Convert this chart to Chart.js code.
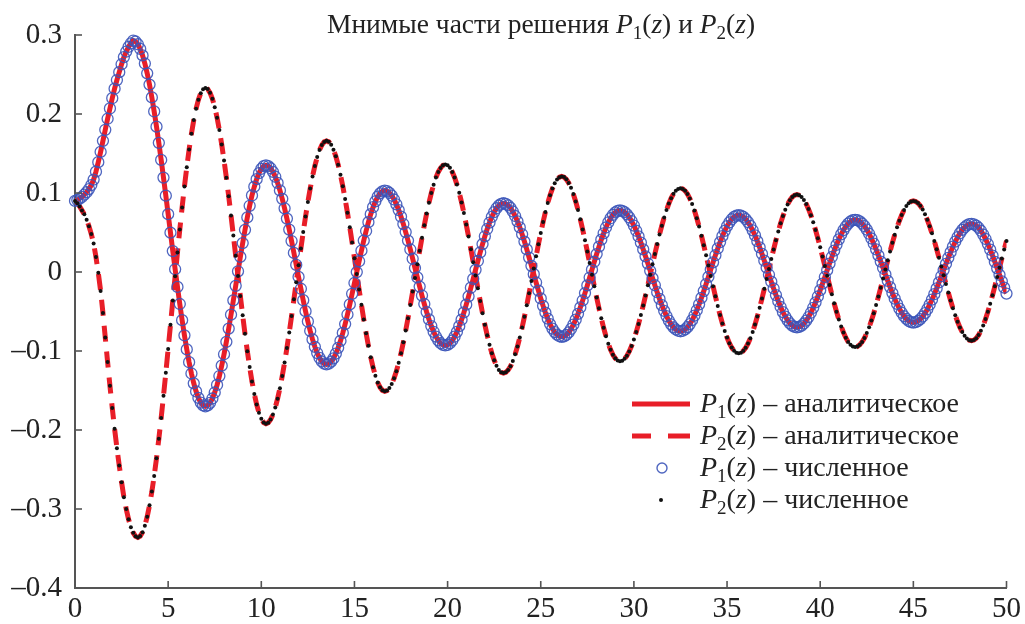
<!DOCTYPE html>
<html>
<head>
<meta charset="utf-8">
<script src="https://cdn.jsdelivr.net/npm/chart.js@4.4.1/dist/chart.umd.min.js"></script>
<style>
html,body{margin:0;padding:0;background:#fff;}
#wrap{width:1025px;height:624px;}
</style>
</head>
<body>
<div id="wrap"><canvas id="c" width="1025" height="624"></canvas></div>
<script>
// sample positions z
const z = [
0,0.125,0.25,0.375,0.5,0.625,0.75,0.875,
1,1.125,1.25,1.375,1.5,1.625,1.75,1.875,
2,2.125,2.25,2.375,2.5,2.625,2.75,2.875,
3,3.125,3.25,3.375,3.5,3.625,3.75,3.875,
4,4.125,4.25,4.375,4.5,4.625,4.75,4.875,
5,5.125,5.25,5.375,5.5,5.625,5.75,5.875,
6,6.125,6.25,6.375,6.5,6.625,6.75,6.875,
7,7.125,7.25,7.375,7.5,7.625,7.75,7.875,
8,8.125,8.25,8.375,8.5,8.625,8.75,8.875,
9,9.125,9.25,9.375,9.5,9.625,9.75,9.875,
10,10.125,10.25,10.375,10.5,10.625,10.75,10.875,
11,11.125,11.25,11.375,11.5,11.625,11.75,11.875,
12,12.125,12.25,12.375,12.5,12.625,12.75,12.875,
13,13.125,13.25,13.375,13.5,13.625,13.75,13.875,
14,14.125,14.25,14.375,14.5,14.625,14.75,14.875,
15,15.125,15.25,15.375,15.5,15.625,15.75,15.875,
16,16.125,16.25,16.375,16.5,16.625,16.75,16.875,
17,17.125,17.25,17.375,17.5,17.625,17.75,17.875,
18,18.125,18.25,18.375,18.5,18.625,18.75,18.875,
19,19.125,19.25,19.375,19.5,19.625,19.75,19.875,
20,20.125,20.25,20.375,20.5,20.625,20.75,20.875,
21,21.125,21.25,21.375,21.5,21.625,21.75,21.875,
22,22.125,22.25,22.375,22.5,22.625,22.75,22.875,
23,23.125,23.25,23.375,23.5,23.625,23.75,23.875,
24,24.125,24.25,24.375,24.5,24.625,24.75,24.875,
25,25.125,25.25,25.375,25.5,25.625,25.75,25.875,
26,26.125,26.25,26.375,26.5,26.625,26.75,26.875,
27,27.125,27.25,27.375,27.5,27.625,27.75,27.875,
28,28.125,28.25,28.375,28.5,28.625,28.75,28.875,
29,29.125,29.25,29.375,29.5,29.625,29.75,29.875,
30,30.125,30.25,30.375,30.5,30.625,30.75,30.875,
31,31.125,31.25,31.375,31.5,31.625,31.75,31.875,
32,32.125,32.25,32.375,32.5,32.625,32.75,32.875,
33,33.125,33.25,33.375,33.5,33.625,33.75,33.875,
34,34.125,34.25,34.375,34.5,34.625,34.75,34.875,
35,35.125,35.25,35.375,35.5,35.625,35.75,35.875,
36,36.125,36.25,36.375,36.5,36.625,36.75,36.875,
37,37.125,37.25,37.375,37.5,37.625,37.75,37.875,
38,38.125,38.25,38.375,38.5,38.625,38.75,38.875,
39,39.125,39.25,39.375,39.5,39.625,39.75,39.875,
40,40.125,40.25,40.375,40.5,40.625,40.75,40.875,
41,41.125,41.25,41.375,41.5,41.625,41.75,41.875,
42,42.125,42.25,42.375,42.5,42.625,42.75,42.875,
43,43.125,43.25,43.375,43.5,43.625,43.75,43.875,
44,44.125,44.25,44.375,44.5,44.625,44.75,44.875,
45,45.125,45.25,45.375,45.5,45.625,45.75,45.875,
46,46.125,46.25,46.375,46.5,46.625,46.75,46.875,
47,47.125,47.25,47.375,47.5,47.625,47.75,47.875,
48,48.125,48.25,48.375,48.5,48.625,48.75,48.875,
49,49.125,49.25,49.375,49.5,49.625,49.75,49.875,
50];

// Im P1(z)
const p1 = [
0.090,0.091,0.093,0.095,0.098,0.101,0.105,0.110,
0.117,0.127,0.139,0.152,0.166,0.180,0.194,0.207,
0.220,0.232,0.243,0.253,0.263,0.272,0.279,0.285,
0.2895,0.293,0.2918,0.2883,0.2824,0.2742,0.2639,0.2515,
0.2372,0.2210,0.2032,0.1840,0.1635,0.1419,0.1195,0.0966,
0.0732,0.0498,0.0265,0.0035,-0.0189,-0.0405,-0.0610,-0.0802,
-0.0980,-0.1142,-0.1285,-0.1409,-0.1512,-0.1594,-0.1653,-0.1688,
-0.170,-0.1689,-0.1656,-0.1601,-0.1525,-0.1430,-0.1317,-0.1186,
-0.1041,-0.0884,-0.0716,-0.0540,-0.0359,-0.0175,0.0009,0.0191,
0.0366,0.0534,0.0691,0.0838,0.0969,0.1080,0.1175,0.1251,
0.1306,0.1339,0.135,0.1341,0.1313,0.1268,0.1206,0.1127,
0.1033,0.0926,0.0806,0.0676,0.0537,0.0392,0.0242,0.0090,
-0.0062,-0.0212,-0.0357,-0.0496,-0.0626,-0.0746,-0.0853,-0.0947,
-0.1026,-0.1088,-0.1133,-0.1161,-0.117,-0.1161,-0.1135,-0.1093,
-0.1034,-0.0960,-0.0872,-0.0771,-0.0659,-0.0538,-0.0410,-0.0276,
-0.0139,-0.0001,0.0136,0.0270,0.0398,0.0519,0.0631,0.0732,
0.0820,0.0894,0.0953,0.0995,0.1021,0.103,0.1023,0.1002,
0.0966,0.0918,0.0857,0.0784,0.0700,0.0607,0.0505,0.0398,
0.0285,0.0168,0.0050,-0.0068,-0.0185,-0.0298,-0.0405,-0.0507,
-0.0600,-0.0684,-0.0757,-0.0818,-0.0866,-0.0902,-0.0923,-0.093,
-0.0923,-0.0902,-0.0867,-0.0819,-0.0758,-0.0686,-0.0604,-0.0512,
-0.0413,-0.0308,-0.0199,-0.0087,0.0027,0.0139,0.0248,0.0353,
0.0452,0.0544,0.0626,0.0698,0.0759,0.0807,0.0842,0.0863,
0.087,0.0863,0.0843,0.0811,0.0766,0.0709,0.0641,0.0564,
0.0478,0.0385,0.0286,0.0183,0.0078,-0.0028,-0.0133,-0.0236,
-0.0335,-0.0428,-0.0514,-0.0591,-0.0659,-0.0716,-0.0761,-0.0793,
-0.0813,-0.082,-0.0814,-0.0795,-0.0764,-0.0721,-0.0667,-0.0603,
-0.0530,-0.0449,-0.0361,-0.0267,-0.0170,-0.0070,0.0030,0.0130,
0.0227,0.0321,0.0409,0.0490,0.0563,0.0627,0.0681,0.0724,
0.0755,0.0774,0.078,0.0774,0.0758,0.0730,0.0692,0.0645,
0.0588,0.0522,0.0450,0.0371,0.0286,0.0198,0.0107,0.0015,
-0.0077,-0.0168,-0.0256,-0.0341,-0.0420,-0.0492,-0.0558,-0.0615,
-0.0662,-0.0700,-0.0728,-0.0744,-0.075,-0.0744,-0.0727,-0.0698,
-0.0659,-0.0610,-0.0551,-0.0484,-0.0409,-0.0328,-0.0242,-0.0153,
-0.0061,0.0031,0.0123,0.0212,0.0298,0.0379,0.0454,0.0521,
0.0580,0.0629,0.0668,0.0697,0.0714,0.072,0.0714,0.0698,
0.0670,0.0632,0.0584,0.0528,0.0463,0.0390,0.0312,0.0229,
0.0143,0.0055,-0.0035,-0.0123,-0.0209,-0.0292,-0.0370,-0.0443,
-0.0508,-0.0564,-0.0612,-0.0650,-0.0678,-0.0694,-0.070,-0.0695,
-0.0679,-0.0652,-0.0616,-0.0570,-0.0516,-0.0453,-0.0384,-0.0310,
-0.0230,-0.0147,-0.0063,0.0023,0.0107,0.0190,0.0270,0.0344,
0.0413,0.0476,0.0530,0.0576,0.0612,0.0639,0.0655,0.066,
0.0655,0.0640,0.0614,0.0580,0.0536,0.0484,0.0424,0.0358,
0.0287,0.0211,0.0132,0.0051,-0.0031,-0.0112,-0.0191,-0.0267,
-0.0338,-0.0404,-0.0464,-0.0516,-0.0560,-0.0594,-0.0620,-0.0635,
-0.064,-0.0635,-0.0620,-0.0596,-0.0563,-0.0521,-0.0471,-0.0413,
-0.0350,-0.0281,-0.0208,-0.0132,-0.0054,0.0024,0.0102,0.0178,
0.0251,0.0320,0.0384,0.0441,0.0491,0.0533,0.0566,0.0590,
0.0605,0.061,0.0604,0.0588,0.0560,0.0522,0.0474,0.0418,
0.0354,0.0283,0.0208,0.0128,0.0046,-0.0036,-0.0118,-0.0198,
-0.0273];

// Im P2(z)
const p2 = [
0.090,0.087,0.083,0.078,0.073,0.066,0.058,0.048,
0.036,0.019,-0.001,-0.024,-0.052,-0.083,-0.114,-0.144,
-0.172,-0.1985,-0.223,-0.245,-0.266,-0.285,-0.300,-0.313,
-0.323,-0.330,-0.3345,-0.336,-0.3343,-0.3294,-0.3211,-0.3097,
-0.2953,-0.2780,-0.2581,-0.2357,-0.2112,-0.1848,-0.1568,-0.1276,
-0.0975,-0.0669,-0.0361,-0.0055,0.0246,0.0538,0.0818,0.1082,
0.1327,0.1551,0.1750,0.1923,0.2067,0.2181,0.2264,0.2313,
0.233,0.2315,0.2268,0.2192,0.2087,0.1954,0.1796,0.1614,
0.1412,0.1193,0.0959,0.0714,0.0461,0.0205,-0.0051,-0.0304,
-0.0549,-0.0783,-0.1002,-0.1204,-0.1386,-0.1544,-0.1677,-0.1782,
-0.1858,-0.1905,-0.192,-0.1907,-0.1868,-0.1804,-0.1715,-0.1603,
-0.1470,-0.1317,-0.1147,-0.0962,-0.0765,-0.0558,-0.0346,-0.0130,
0.0086,0.0298,0.0505,0.0702,0.0887,0.1057,0.1210,0.1343,
0.1455,0.1544,0.1608,0.1647,0.166,0.1648,0.1610,0.1549,
0.1464,0.1357,0.1230,0.1085,0.0924,0.0750,0.0565,0.0372,
0.0175,-0.0025,-0.0222,-0.0415,-0.0600,-0.0774,-0.0935,-0.1080,
-0.1207,-0.1314,-0.1399,-0.1460,-0.1498,-0.151,-0.1500,-0.1468,
-0.1417,-0.1346,-0.1256,-0.1149,-0.1027,-0.0890,-0.0742,-0.0584,
-0.0418,-0.0248,-0.0075,0.0098,0.0268,0.0434,0.0592,0.0740,
0.0877,0.0999,0.1106,0.1196,0.1267,0.1318,0.1350,0.136,
0.1350,0.1319,0.1267,0.1197,0.1108,0.1002,0.0881,0.0747,
0.0602,0.0448,0.0287,0.0123,-0.0043,-0.0207,-0.0368,-0.0522,
-0.0667,-0.0801,-0.0922,-0.1028,-0.1117,-0.1187,-0.1239,-0.1270,
-0.128,-0.1270,-0.1241,-0.1193,-0.1126,-0.1042,-0.0943,-0.0829,
-0.0702,-0.0565,-0.0420,-0.0268,-0.0113,0.0043,0.0198,0.0350,
0.0495,0.0632,0.0759,0.0873,0.0972,0.1056,0.1123,0.1171,
0.1200,0.121,0.1201,0.1173,0.1128,0.1065,0.0987,0.0893,
0.0786,0.0667,0.0538,0.0402,0.0259,0.0114,-0.0034,-0.0179,
-0.0322,-0.0458,-0.0587,-0.0706,-0.0813,-0.0907,-0.0985,-0.1048,
-0.1093,-0.1121,-0.113,-0.1122,-0.1098,-0.1059,-0.1005,-0.0936,
-0.0855,-0.0761,-0.0657,-0.0544,-0.0423,-0.0297,-0.0167,-0.0035,
0.0097,0.0227,0.0353,0.0474,0.0587,0.0691,0.0785,0.0866,
0.0935,0.0989,0.1028,0.1052,0.106,0.1052,0.1027,0.0987,
0.0931,0.0860,0.0777,0.0681,0.0575,0.0460,0.0338,0.0211,
0.0081,-0.0051,-0.0181,-0.0308,-0.0430,-0.0545,-0.0651,-0.0747,
-0.0830,-0.0901,-0.0957,-0.0997,-0.1022,-0.103,-0.1022,-0.0998,
-0.0959,-0.0906,-0.0838,-0.0758,-0.0666,-0.0564,-0.0453,-0.0336,
-0.0213,-0.0088,0.0038,0.0163,0.0286,0.0403,0.0514,0.0616,
0.0708,0.0788,0.0856,0.0909,0.0948,0.0972,0.098,0.0972,
0.0950,0.0912,0.0861,0.0796,0.0719,0.0630,0.0532,0.0426,
0.0313,0.0196,0.0076,-0.0046,-0.0166,-0.0283,-0.0396,-0.0502,
-0.0600,-0.0689,-0.0766,-0.0832,-0.0885,-0.0922,-0.0942,-0.095,
-0.0943,-0.0921,-0.0885,-0.0836,-0.0773,-0.0699,-0.0615,-0.0521,
-0.0419,-0.0311,-0.0198,-0.0083,0.0033,0.0148,0.0261,0.0369,
0.0471,0.0565,0.0649,0.0723,0.0786,0.0835,0.0871,0.0893,
0.090,0.0893,0.0872,0.0838,0.0791,0.0731,0.0660,0.0579,
0.0489,0.0392,0.0289,0.0181,0.0071,-0.0041,-0.0151,-0.0259,
-0.0362,-0.0459,-0.0549,-0.0630,-0.0701,-0.0761,-0.0808,-0.0843,
-0.0863,-0.087,-0.0862,-0.0838,-0.0798,-0.0744,-0.0676,-0.0595,
-0.0504,-0.0403,-0.0295,-0.0181,-0.0064,0.0054,0.0171,0.0285,
0.0393];

const xTickValues = [0,5,10,15,20,25,30,35,40,45,50];
const yTickValues = [-0.4,-0.3,-0.2,-0.1,0,0.1,0.2,0.3];

const titleSegs = [['Мнимые части решения ','n'],['P','i'],['1','s'],['(','n'],['z','i'],[') и ','n'],['P','i'],['2','s'],['(','n'],['z','i'],[')','n']];
const legendItems = [
  [['P','i'],['1','s'],['(','n'],['z','i'],[') – аналитическое','n']],
  [['P','i'],['2','s'],['(','n'],['z','i'],[') – аналитическое','n']],
  [['P','i'],['1','s'],['(','n'],['z','i'],[') – численное','n']],
  [['P','i'],['2','s'],['(','n'],['z','i'],[') – численное','n']]
];

const RED = 'rgb(232,30,40)';
const BLUE = 'rgba(60,85,185,0.9)';
const FAM = 'Liberation Serif';

function pts(ys){ return z.map((x,i)=>({x:x, y:ys[i]})); }

function segFont(kind,size){
  if(kind==='i') return 'italic '+size+'px "'+FAM+'"';
  if(kind==='s') return Math.round(size*0.68)+'px "'+FAM+'"';
  return size+'px "'+FAM+'"';
}
function drawRich(ctx,segs,x,y,size,align){
  let w=0; const ws=[];
  segs.forEach(s=>{ctx.font=segFont(s[1],size); const m=ctx.measureText(s[0]).width; ws.push(m); w+=m;});
  let cx = align==='center' ? x-w/2 : x;
  ctx.textAlign='left'; ctx.textBaseline='alphabetic';
  segs.forEach((s,i)=>{
    ctx.font=segFont(s[1],size);
    const dy = s[1]==='s' ? size*0.22 : 0;
    ctx.fillText(s[0],cx,y+dy);
    cx+=ws[i];
  });
}

const decor = {
  id:'decor',
  afterDraw(chart){
    const ctx=chart.ctx, xs=chart.scales.x, ys=chart.scales.y, ca=chart.chartArea;
    ctx.save();
    ctx.strokeStyle='#555'; ctx.lineWidth=1.6;
    xTickValues.forEach(v=>{const p=xs.getPixelForValue(v); ctx.beginPath(); ctx.moveTo(p,ca.bottom); ctx.lineTo(p,ca.bottom-7); ctx.stroke();});
    yTickValues.forEach(v=>{const p=ys.getPixelForValue(v); ctx.beginPath(); ctx.moveTo(ca.left,p); ctx.lineTo(ca.left+7,p); ctx.stroke();});
    ctx.fillStyle='#222';
    drawRich(ctx,titleSegs,541,33,27.5,'center');
    // legend
    const lx=632, rows=[404,436,468,500];
    ctx.strokeStyle=RED; ctx.lineWidth=5; ctx.lineCap='butt';
    ctx.beginPath(); ctx.moveTo(lx,rows[0]); ctx.lineTo(lx+58,rows[0]); ctx.stroke();
    ctx.beginPath(); ctx.moveTo(lx,rows[1]); ctx.lineTo(lx+19,rows[1]); ctx.moveTo(lx+36,rows[1]); ctx.lineTo(lx+58,rows[1]); ctx.stroke();
    ctx.strokeStyle=BLUE; ctx.lineWidth=1.4;
    ctx.beginPath(); ctx.arc(lx+30,rows[2],5,0,Math.PI*2); ctx.stroke();
    ctx.fillStyle='#111';
    ctx.beginPath(); ctx.arc(lx+29,rows[3],2,0,Math.PI*2); ctx.fill();
    ctx.fillStyle='#222';
    legendItems.forEach((segs,i)=>drawRich(ctx,segs,700,rows[i]+8,28,'left'));
    ctx.restore();
  }
};

new Chart(document.getElementById('c'),{
  type:'line',
  data:{datasets:[
    {label:'P1 analytic',data:pts(p1),borderColor:RED,borderWidth:5,pointRadius:0,tension:0,fill:false,order:3},
    {label:'P2 analytic',data:pts(p2),borderColor:RED,borderWidth:5,borderDash:[16,10],pointRadius:0,tension:0,fill:false,order:2},
    {label:'P1 numeric',data:pts(p1),showLine:false,pointRadius:5.5,pointBorderWidth:1.3,pointBorderColor:BLUE,pointBackgroundColor:'rgba(0,0,0,0)',order:1,clip:false},
    {label:'P2 numeric',data:pts(p2),showLine:false,pointRadius:2,pointBorderWidth:0,pointBackgroundColor:'#111',pointBorderColor:'#111',order:0,clip:false}
  ]},
  options:{
    responsive:false,animation:false,devicePixelRatio:1,
    layout:{padding:{top:35,right:17,left:0,bottom:0}},
    plugins:{legend:{display:false},tooltip:{enabled:false},title:{display:false}},
    scales:{
      x:{type:'linear',min:0,max:50,
        afterBuildTicks(s){s.ticks=xTickValues.map(v=>({value:v}));},
        afterFit(s){s.height=36;},
        grid:{display:false,drawTicks:false},
        border:{display:true,color:'#555',width:2},
        ticks:{padding:4,color:'#222',font:{family:FAM,size:29},maxRotation:0,callback:v=>String(v)}},
      y:{type:'linear',min:-0.4,max:0.3,
        afterBuildTicks(s){s.ticks=yTickValues.map(v=>({value:v}));},
        afterFit(s){s.width=75;},
        grid:{display:false,drawTicks:false},
        border:{display:true,color:'#555',width:2},
        ticks:{padding:13,color:'#222',font:{family:FAM,size:29},callback:v=>{const r=Math.round(v*10)/10; if(r===0) return '0'; return (r<0?'\u2013':'')+Math.abs(r).toFixed(1);}}}
    }
  },
  plugins:[decor]
});
</script>
</body>
</html>
